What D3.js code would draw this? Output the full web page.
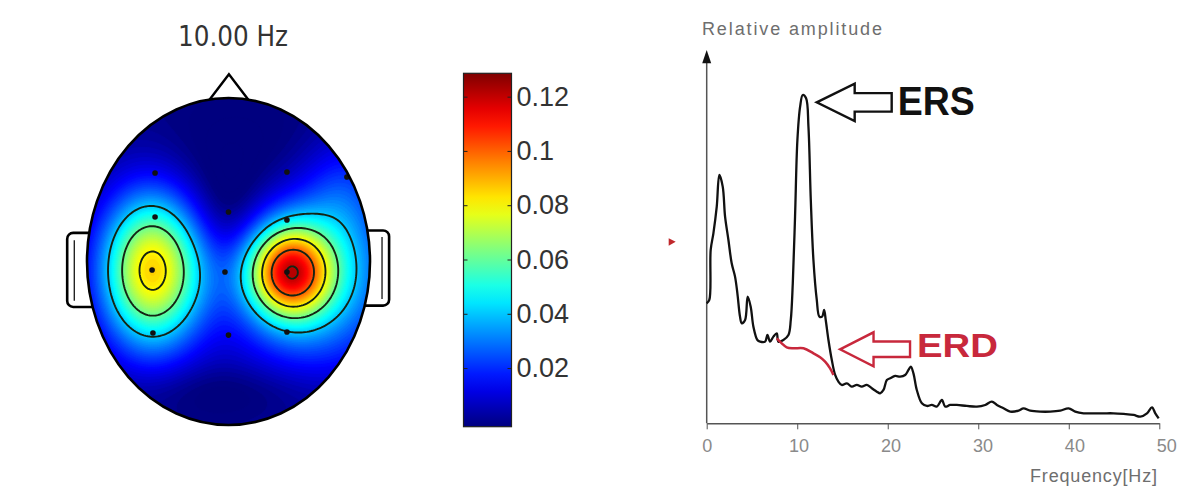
<!DOCTYPE html>
<html>
<head>
<meta charset="utf-8">
<script src="https://cdn.jsdelivr.net/npm/d3@7"></script>
<style>
body { margin: 0; background: #fff; }
svg { display: block; font-family: "Liberation Sans", Arial, sans-serif; }
</style>
</head>
<body>
<div id="main"></div>
<script>
// spectrum
const freq = [0,0.29,0.44,0.74,1.11,1.40,1.77,2.03,2.40,2.76,3.13,3.39,3.68,3.87,4.24,4.53,4.86,5.16,5.60,5.90,
  6.45,6.71,7.00,7.37,7.74,7.92,8.47,9.03,9.29,9.51,9.76,10.02,10.32,10.61,10.98,11.24,11.50,11.79,12.16,12.45,
  12.75,12.97,13.15,13.45,13.82,14.19,14.55,14.92,15.48,16.03,16.58,17.13,17.69,18.24,18.79,19.16,19.53,19.90,20.27,20.82,
  21.37,21.92,22.29,22.55,22.84,23.21,23.77,24.32,24.87,25.42,25.98,26.35,26.90,27.63,28.74,29.85,30.77,31.50,32.06,32.79,
  33.53,34.45,35.00,35.74,36.85,37.95,39.06,39.98,40.71,41.64,42.74,43.85,44.95,46.06,47.16,47.90,48.64,49.19,49.56,49.93];
const amp = [36,37,52,57,65,74.5,71,62,55,48,44,39,32,30,31,38,35,29,25,24.5,
  24.5,26.5,24.5,26,27,24.5,25,26.5,31,42,62,85,95,98.5,97.5,89,67,49,37,32,
  32,34,31,25,19,14.5,12.5,11.5,12,11,11.5,11,11.5,10.5,9.5,9,10,13,13.5,14.2,
  14,14.5,16,17,15,10,6,5.2,5.5,5,7,5,5.5,5.5,5.2,5,5.5,6.5,5.5,4.5,
  3.5,3.8,4.5,3.8,3.5,3.5,3.8,4.5,3.5,3,3,3,3,2.8,2.5,2,3,4.8,3,1.5];
const erdFreq = [7.74,8.29,8.84,9.58,10.69,11.79,12.53,13.08,13.63,14.0];
const erdAmp = [25.5,24,22.8,22.5,22.5,21,19.8,18.5,16.5,14.5];
const freqTicks = [0,10,20,30,40,50];

// scalp map at 10 Hz: sources in head units (-1..1)
const srcU  = [-0.54, 0.428, 0.60, 0.15, 0.82, 0.0, 0.0];
const srcV  = [0.052, 0.064, 0.08, -0.55, -0.45, 0.80, -0.28];
const srcA  = [0.085, 0.080, 0.046, -0.008, 0.013, -0.006, -0.008];
const srcSu = [0.254, 0.198, 0.40, 0.5, 0.2, 0.5, 0.17];
const srcSv = [0.33, 0.19, 0.38, 0.3, 0.25, 0.12, 0.2];
const baseLevel = 0.0;
const elecU = [-0.519, 0.413, 0.837, -0.519, 0.0, 0.413, -0.54, -0.025, 0.413, -0.534, 0.0, 0.413];
const elecV = [-0.541, -0.547, -0.517, -0.272, -0.303, -0.254, 0.052, 0.064, 0.064, 0.437, 0.45, 0.431];
const cbarTicks = [0.02, 0.04, 0.06, 0.08, 0.1, 0.12];
const lineLevels = [0.04, 0.06, 0.08, 0.1, 0.12];
const cmin = -0.0016, cmax = 0.1286;

const ctx = { W: 1179, H: 486 };

function jet() {
    const t = [0, 0.125, 0.375, 0.625, 0.875, 1];
    return d3.scaleLinear()
        .domain(t.map(d => cmin + d * (cmax - cmin)))
        .range(["#00007f", "#0000ff", "#00ffff", "#ffff00", "#ff0000", "#7f0000"])
        .clamp(true);
}

function drawHead(svg) {
    const head = { cx: 228.5, cy: 261.5, rx: 141.5, ry: 163.5 };
    const hx = d3.scaleLinear().domain([-1, 1]).range([head.cx - head.rx, head.cx + head.rx]);
    const hy = d3.scaleLinear().domain([-1, 1]).range([head.cy - head.ry, head.cy + head.ry]);
    const color = jet();

    svg.append("text")
        .attr("x", 233).attr("y", 46)
        .attr("text-anchor", "middle")
        .attr("textLength", 110).attr("lengthAdjust", "spacingAndGlyphs")
        .style("font-family", "'DejaVu Sans Condensed', 'DejaVu Sans', sans-serif")
        .style("font-size", "29px").style("fill", "#333")
        .text("10.00 Hz");

    // nose
    svg.append("path")
        .attr("d", d3.line()([[hx(-0.16), hy(-0.96)], [hx(0.003), hy(-1.145)], [hx(0.166), hy(-0.96)]]))
        .attr("fill", "#fff").attr("stroke", "#000").attr("stroke-width", 2.4);

    // ears
    const ear = (u0, u1, v0, v1) => {
        svg.append("rect")
            .attr("x", hx(u0)).attr("y", hy(v0))
            .attr("width", hx(u1) - hx(u0)).attr("height", hy(v1) - hy(v0))
            .attr("rx", 6)
            .attr("fill", "#fff").attr("stroke", "#000").attr("stroke-width", 2.6);
    };
    ear(-1.14, -0.9, -0.175, 0.278);
    ear(0.9, 1.135, -0.19, 0.27);
    svg.append("path")
        .attr("d", `M${hx(-1.09)},${hy(-0.13)} L${hx(-1.09)},${hy(0.24)}`)
        .attr("stroke", "#000").attr("stroke-width", 1.2);
    svg.append("path")
        .attr("d", `M${hx(1.085)},${hy(-0.15)} L${hx(1.085)},${hy(0.23)}`)
        .attr("stroke", "#000").attr("stroke-width", 1.2);

    // grid of the field
    const nx = 142, ny = 164;
    const values = new Array(nx * ny);
    for (let j = 0; j < ny; j++) {
        const v = -1 + (j + 0.5) * 2 / ny;
        for (let i = 0; i < nx; i++) {
            const u = -1 + (i + 0.5) * 2 / nx;
            let z = baseLevel;
            for (let k = 0; k < srcU.length; k++) {
                const du = (u - srcU[k]) / srcSu[k], dv = (v - srcV[k]) / srcSv[k];
                z += srcA[k] * Math.exp(-0.5 * (du * du + dv * dv));
            }
            values[j * nx + i] = z;
        }
    }

    svg.append("clipPath").attr("id", "headClip")
        .append("ellipse")
        .attr("cx", head.cx).attr("cy", head.cy).attr("rx", head.rx).attr("ry", head.ry);

    const g = svg.append("g").attr("clip-path", "url(#headClip)")
        .append("g")
        .attr("transform", `translate(${hx(-1)},${hy(-1)}) scale(${(hx(1) - hx(-1)) / nx},${(hy(1) - hy(-1)) / ny})`);

    const step = 0.0015;
    const fillLevels = d3.range(-0.02, 0.14, step);
    const bands = d3.contours().size([nx, ny]).thresholds(fillLevels)(values);
    g.append("rect").attr("width", nx).attr("height", ny).attr("fill", color(-0.02));
    g.selectAll("path.band")
        .data(bands)
        .join("path")
        .attr("class", "band")
        .attr("d", d3.geoPath())
        .attr("fill", d => color(d.value + step / 2))
        .attr("stroke", d => color(d.value + step / 2))
        .attr("stroke-width", 0.4);

    const lines = d3.contours().size([nx, ny]).thresholds(lineLevels)(values);
    g.selectAll("path.iso")
        .data(lines)
        .join("path")
        .attr("class", "iso")
        .attr("d", d3.geoPath())
        .attr("fill", "none")
        .attr("stroke", "#142414")
        .attr("stroke-width", 1.9)
        .attr("vector-effect", "non-scaling-stroke");

    // electrodes
    svg.append("g").selectAll("circle")
        .data(d3.range(elecU.length))
        .join("circle")
        .attr("cx", i => hx(elecU[i]))
        .attr("cy", i => hy(elecV[i]))
        .attr("r", 2.8)
        .attr("fill", "#111");

    svg.append("ellipse")
        .attr("cx", head.cx).attr("cy", head.cy).attr("rx", head.rx).attr("ry", head.ry)
        .attr("fill", "none").attr("stroke", "#000").attr("stroke-width", 2.6);

    // colour bar
    const cy = d3.scaleLinear().domain([cmin, cmax]).range([426.7, 73.3]);
    const bx = 463.5, bw = 48;
    const grad = svg.append("defs").append("linearGradient")
        .attr("id", "jetGrad").attr("x1", 0).attr("y1", 1).attr("x2", 0).attr("y2", 0);
    grad.selectAll("stop")
        .data(d3.range(0, 1.0001, 0.05))
        .join("stop")
        .attr("offset", d => d)
        .attr("stop-color", d => color(cmin + d * (cmax - cmin)));
    svg.append("rect")
        .attr("x", bx).attr("y", cy(cmax))
        .attr("width", bw).attr("height", cy(cmin) - cy(cmax))
        .attr("fill", "url(#jetGrad)")
        .attr("stroke", "#222").attr("stroke-width", 1.2);

    const fmt = d => String(+d.toFixed(2));
    const right = svg.append("g")
        .attr("transform", `translate(${bx + bw},0)`)
        .call(d3.axisRight(cy).tickValues(cbarTicks).tickFormat(fmt).tickSizeInner(-4).tickSizeOuter(0).tickPadding(5));
    right.select(".domain").remove();
    right.selectAll("line").attr("stroke", "#222");
    right.selectAll("text")
        .style("font-size", "27px").style("fill", "#333")
        .style("font-family", "'Liberation Sans', Arial, sans-serif");
    const left = svg.append("g")
        .attr("transform", `translate(${bx},0)`)
        .call(d3.axisLeft(cy).tickValues(cbarTicks).tickFormat("").tickSizeInner(-4).tickSizeOuter(0));
    left.select(".domain").remove();
    left.selectAll("line").attr("stroke", "#222");
}

function drawSpectrum(svg) {
    const x = d3.scaleLinear().domain([0, 50]).range([706.7, 1159.3]);
    const y = d3.scaleLinear().domain([0, 112]).range([423.3, 50]);
    const spec = freq.map((f, i) => [f, amp[i]]);
    const erd = erdFreq.map((f, i) => [f, erdAmp[i]]);

    svg.append("text")
        .attr("x", 702).attr("y", 35)
        .attr("textLength", 180).attr("lengthAdjust", "spacing")
        .style("font-size", "18px").style("fill", "#6e6e6e")
        .text("Relative amplitude");

    // y axis with arrow head
    svg.append("line")
        .attr("x1", x(0)).attr("x2", x(0))
        .attr("y1", y(0)).attr("y2", y(109))
        .attr("stroke", "#555").attr("stroke-width", 1.5);
    svg.append("path")
        .attr("d", d3.line()([[x(0) - 4.5, y(108)], [x(0), y(112)], [x(0) + 4.5, y(108)]]) + "Z")
        .attr("fill", "#111");

    const xa = svg.append("g")
        .attr("transform", `translate(0,${y(0)})`)
        .call(d3.axisBottom(x).tickValues(freqTicks).tickSize(6).tickSizeOuter(0).tickPadding(10));
    xa.select(".domain").attr("stroke", "#555").attr("stroke-width", 1.5);
    xa.selectAll("line").attr("stroke", "#555");
    xa.selectAll("text")
        .attr("dx", (d, i) => i * 1.4)
        .style("font-size", "18px").style("fill", "#8a8a8a")
        .style("font-family", "'Liberation Sans', Arial, sans-serif");

    svg.append("text")
        .attr("x", 1030).attr("y", 482)
        .attr("textLength", 127).attr("lengthAdjust", "spacing")
        .style("font-size", "18px").style("fill", "#6e6e6e")
        .text("Frequency[Hz]");

    // little red marker left of the axis
    svg.append("path")
        .attr("d", d3.line()([[x(0) - 38, y(55.5)], [x(0) - 31, y(54.5)], [x(0) - 38, y(53.3)]]) + "Z")
        .attr("fill", "#c0282c");

    const line = d3.line().x(d => x(d[0])).y(d => y(d[1])).curve(d3.curveCatmullRom.alpha(0.5));

    svg.append("path")
        .datum(spec)
        .attr("fill", "none")
        .attr("stroke", "#111")
        .attr("stroke-width", 2.3)
        .attr("stroke-linejoin", "round")
        .attr("d", line);

    svg.append("path")
        .datum(erd)
        .attr("fill", "none")
        .attr("stroke", "#c8283c")
        .attr("stroke-width", 2.5)
        .attr("d", line);

    // block arrows pointing left
    const arrow = (tx, ty, headLen, headH, shaftLen, shaftH) => [
        [tx, ty], [tx + headLen, ty - headH / 2], [tx + headLen, ty - shaftH / 2],
        [tx + headLen + shaftLen, ty - shaftH / 2], [tx + headLen + shaftLen, ty + shaftH / 2],
        [tx + headLen, ty + shaftH / 2], [tx + headLen, ty + headH / 2]
    ];
    const ersTip = [x(12.15), y(96.3)];
    svg.append("path")
        .attr("d", d3.line()(arrow(ersTip[0], ersTip[1], 38, 37.5, 37, 18.5)) + "Z")
        .attr("fill", "#fff").attr("stroke", "#111").attr("stroke-width", 2.4)
        .attr("stroke-linejoin", "miter");
    svg.append("text")
        .attr("x", ersTip[0] + 81).attr("y", ersTip[1] + 13)
        .attr("textLength", 77).attr("lengthAdjust", "spacingAndGlyphs")
        .style("font-size", "40px").style("font-weight", "bold").style("fill", "#111")
        .text("ERS");

    const erdTip = [x(14.73), y(22.2)];
    svg.append("path")
        .attr("d", d3.line()(arrow(erdTip[0], erdTip[1], 33.5, 34, 36.5, 15.5)) + "Z")
        .attr("fill", "#fff").attr("stroke", "#c8283c").attr("stroke-width", 2.4);
    svg.append("text")
        .attr("x", erdTip[0] + 77).attr("y", erdTip[1] + 8)
        .attr("textLength", 81).attr("lengthAdjust", "spacingAndGlyphs")
        .style("font-size", "33px").style("font-weight", "bold").style("fill", "#c8283c")
        .text("ERD");
}

function createViz() {
    const svg = d3.select("#main").append("svg")
        .attr("width", ctx.W).attr("height", ctx.H);
    drawHead(svg);
    drawSpectrum(svg);
}
createViz();
</script>
</body>
</html>
